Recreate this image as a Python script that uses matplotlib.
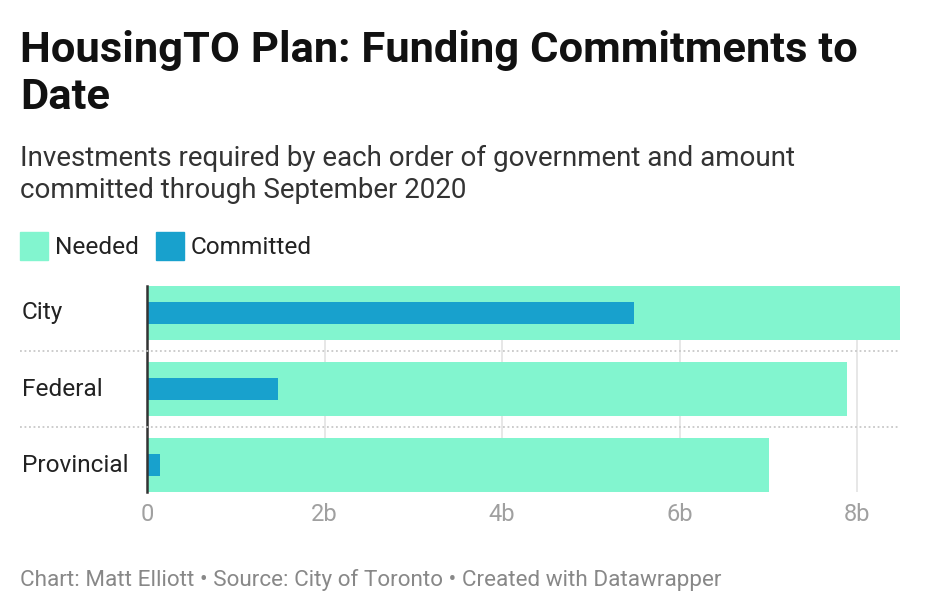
import matplotlib.pyplot as plt
from matplotlib.lines import Line2D
from matplotlib.patches import Rectangle

plt.rcParams['font.family'] = ['Roboto', 'DejaVu Sans']

# data (billions of dollars)
categories = ['City', 'Federal', 'Provincial']
needed = [8.48, 7.88, 7.0]
committed = [5.49, 1.48, 0.15]
tick_vals = [0, 2, 4, 6, 8]
tick_labels = ['0', '2b', '4b', '6b', '8b']

c_needed = '#82f5cf'
c_committed = '#18a1cd'

fig = plt.figure(figsize=(9.4, 6.14), dpi=100)
ax = fig.add_axes([147/940, 122/614, 753/940, 206/614])
ax.patch.set_visible(False)

y = list(range(len(categories)))
ax.barh(y, needed, height=54/76, color=c_needed, zorder=2)
ax.barh(y, committed, height=22/76, color=c_committed, zorder=3)

ax.set_xlim(0, 8.48)
ax.set_ylim(2 + 27/76, -27/76)

# vertical gridlines
for v in tick_vals[1:]:
    ax.axvline(v, color='#e3e3e3', lw=1.2, zorder=1)
ax.axvline(0, color='#333333', lw=1.8, zorder=4, clip_on=False)

for s in ax.spines.values():
    s.set_visible(False)
ax.set_yticks([])
ax.set_xticks(tick_vals)
ax.set_xticklabels(tick_labels, fontsize=17, color='#a0a0a0')
ax.tick_params(axis='x', length=0, pad=8)

# category labels and dotted separators
for i, cat in enumerate(categories):
    yy = (614 - (313 + 76 * i)) / 614
    fig.text(22/940, yy, cat, fontsize=17.6, color='#222222', va='center', ha='left')
for i in range(len(categories) - 1):
    yy = (614 - (351 + 76 * i)) / 614
    fig.add_artist(Line2D([20/940, 900/940], [yy, yy], transform=fig.transFigure,
                          color='#c8c8c8', lw=1.3, ls=(0, (1, 1.5)), zorder=1))

# title and subtitle
fig.text(20/940, 1 - 62/614, 'HousingTO Plan: Funding Commitments to', fontsize=31.3,
         fontweight='bold', color='#111111', va='baseline')
fig.text(20/940, 1 - 109/614, 'Date', fontsize=31.3, fontweight='bold',
         color='#111111', va='baseline')
fig.text(20/940, 1 - 166/614, 'Investments required by each order of government and amount',
         fontsize=20, color='#333333', va='baseline')
fig.text(20/940, 1 - 198/614, 'committed through September 2020',
         fontsize=20, color='#333333', va='baseline')

# legend
fig.add_artist(Rectangle((20/940, 1 - 260/614), 28/940, 28/614,
                         transform=fig.transFigure, color=c_needed))
fig.text(55/940, 1 - 247/614, 'Needed', fontsize=17.6, color='#222222', va='center')
fig.add_artist(Rectangle((156/940, 1 - 260/614), 28/940, 28/614,
                         transform=fig.transFigure, color=c_committed))
fig.text(191/940, 1 - 247/614, 'Committed', fontsize=17.6, color='#222222', va='center')

# footer
fig.text(20/940, 1 - 580/614,
         'Chart: Matt Elliott \u2022 Source: City of Toronto \u2022 Created with Datawrapper',
         fontsize=16.2, color='#888888', va='center')

fig.savefig('out.png', dpi=100)
